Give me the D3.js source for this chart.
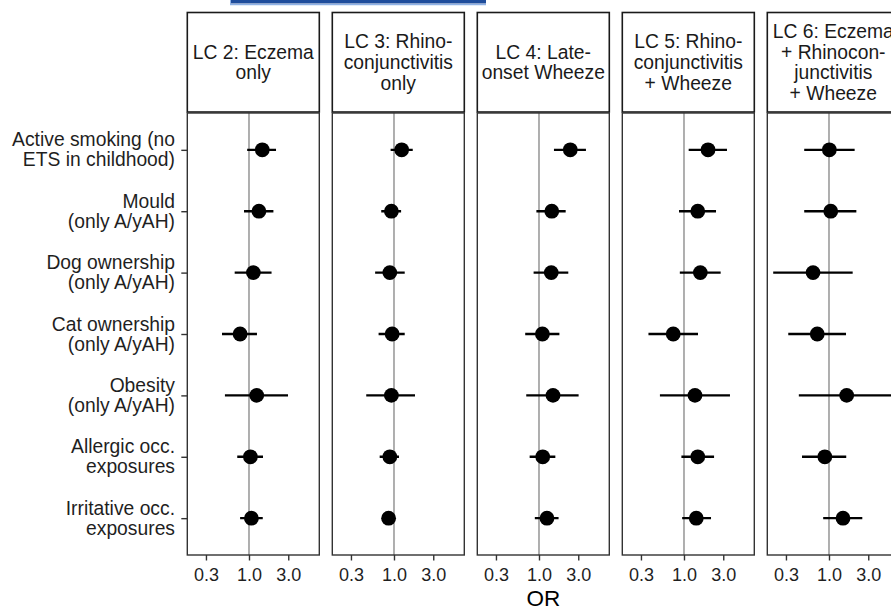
<!DOCTYPE html>
<html>
<head>
    <meta charset="utf-8" />
    <title>Latent classes and exposures - forest plot</title>
    <style>
        body { margin: 0; background: #fff; }
        svg { display: block; font-family: "Liberation Sans", Arial, sans-serif; }
        .ci { stroke: #000; stroke-width: 2.4px; }
        .ref { stroke: #a6a6a6; stroke-width: 1.8px; }
        .panel { fill: none; stroke: #333; stroke-width: 1.4px; }
        .strip { fill: #fff; stroke: #1a1a1a; stroke-width: 1.6px; }
    </style>
    <script src="https://cdn.jsdelivr.net/npm/d3@7"></script>
</head>
<body>
<script>
    // exposures (rows), written as the two lines shown on the axis
    const exposures = [
        ['Active smoking (no', 'ETS in childhood)'],
        ['Mould', '(only A/yAH)'],
        ['Dog ownership', '(only A/yAH)'],
        ['Cat ownership', '(only A/yAH)'],
        ['Obesity', '(only A/yAH)'],
        ['Allergic occ.', 'exposures'],
        ['Irritative occ.', 'exposures']
    ];
    // latent classes (facets)
    const classes = [
        ['LC 2: Eczema', 'only'],
        ['LC 3: Rhino-', 'conjunctivitis', 'only'],
        ['LC 4: Late-', 'onset Wheeze'],
        ['LC 5: Rhino-', 'conjunctivitis', '+ Wheeze'],
        ['LC 6: Eczema', '+ Rhinocon-', 'junctivitis', '+ Wheeze']
    ];
    // odds ratios, one array per class, in exposure order
    const oddsRatios = [
        [1.45, 1.32, 1.13, 0.78, 1.24, 1.04, 1.07],
        [1.24, 0.93, 0.89, 0.95, 0.93, 0.89, 0.86],
        [2.40, 1.43, 1.41, 1.10, 1.48, 1.11, 1.25],
        [1.96, 1.47, 1.58, 0.74, 1.36, 1.47, 1.41],
        [1.01, 1.05, 0.64, 0.72, 1.64, 0.89, 1.48]
    ];
    const ciLower = [
        [0.95, 0.87, 0.67, 0.47, 0.51, 0.72, 0.78],
        [0.91, 0.70, 0.59, 0.65, 0.46, 0.67, 0.72],
        [1.52, 0.93, 0.86, 0.68, 0.70, 0.77, 0.89],
        [1.14, 0.87, 0.89, 0.37, 0.51, 0.93, 0.95],
        [0.50, 0.50, 0.21, 0.32, 0.43, 0.47, 0.85]
    ];
    const ciUpper = [
        [2.13, 1.98, 1.88, 1.25, 2.98, 1.48, 1.47],
        [1.69, 1.22, 1.35, 1.35, 1.80, 1.15, 1.02],
        [3.72, 2.11, 2.27, 1.77, 3.03, 1.58, 1.73],
        [3.33, 2.45, 2.79, 1.48, 3.62, 2.32, 2.13],
        [2.05, 2.15, 1.94, 1.61, 6.50, 1.62, 2.54]
    ];
    const xTicks = [0.3, 1, 3];

    // layout
    const W = 891, H = 610;
    const panelLeft = 187.3, panelW = 132, panelStep = 145;
    const stripTop = 12.5, stripBottom = 112, panelTop = 113, panelBottom = 555;
    const labelSize = 19.3;

    const svg = d3.select('body').append('svg')
        .attr('width', W)
        .attr('height', H);

    // blue bar cut off at the top of the figure
    svg.append('rect')
        .attr('x', 230).attr('y', -2).attr('width', 256).attr('height', 5.5)
        .attr('fill', '#1f4d9c');
    svg.append('line')
        .attr('x1', 230).attr('x2', 486).attr('y1', 4.6).attr('y2', 4.6)
        .attr('stroke', '#8fb2e6').attr('stroke-width', 1.2);
    svg.append('line')
        .attr('x1', 230.5).attr('x2', 230.5).attr('y1', 0).attr('y2', 5)
        .attr('stroke', '#8fb2e6').attr('stroke-width', 1);

    let x = d3.scaleLog().domain([0.178, 7.15]).range([0, panelW]);
    let y = d3.scalePoint()
        .domain(d3.range(exposures.length))
        .range([panelTop, panelBottom])
        .padding(0.6);

    // y axis (ticks + two-line labels)
    const yAxis = svg.append('g')
        .attr('transform', 'translate(' + panelLeft + ',0)')
        .call(d3.axisLeft(y).tickSize(6).tickFormat(''));
    yAxis.select('.domain').remove();
    yAxis.selectAll('.tick line').attr('stroke', '#333').attr('stroke-width', 1.4);

    svg.append('g').selectAll('text')
        .data(exposures)
        .enter().append('text')
            .attr('text-anchor', 'end')
            .attr('font-size', labelSize)
            .attr('fill', '#1f1f1f')
            .each(function(lines, i) {
                const t = d3.select(this);
                lines.forEach((s, j) => {
                    t.append('tspan')
                        .attr('x', 175)
                        .attr('y', y(i) - 3.5 + j * 20)
                        .text(s);
                });
            });

    classes.forEach((cls, k) => {
        const left = panelLeft + k * panelStep;
        const g = svg.append('g').attr('transform', 'translate(' + left + ',0)');

        // strip
        g.append('rect')
            .attr('class', 'strip')
            .attr('x', 0).attr('y', stripTop)
            .attr('width', panelW).attr('height', stripBottom - stripTop);
        const cy = (stripTop + stripBottom) / 2;
        const st = g.append('text')
            .attr('text-anchor', 'middle')
            .attr('font-size', labelSize)
            .attr('fill', '#1a1a1a');
        cls.forEach((s, j) => {
            st.append('tspan')
                .attr('x', panelW / 2)
                .attr('y', cy + (j - (cls.length - 1) / 2) * 20.8 + 6.8)
                .text(s);
        });

        // clip marks to panel
        g.append('clipPath').attr('id', 'clip' + k)
            .append('rect')
                .attr('x', 0).attr('y', panelTop)
                .attr('width', panelW).attr('height', panelBottom - panelTop);

        const plot = g.append('g').attr('clip-path', 'url(#clip' + k + ')');

        // reference line at OR = 1
        plot.append('line')
            .attr('class', 'ref')
            .attr('x1', x(1)).attr('x2', x(1))
            .attr('y1', panelTop).attr('y2', panelBottom);

        const rows = exposures.map((e, i) => ({
            i: i, or: oddsRatios[k][i], lo: ciLower[k][i], hi: ciUpper[k][i]
        }));

        plot.selectAll('.ci')
            .data(rows)
            .enter().append('line')
                .attr('class', 'ci')
                .attr('x1', d => x(d.lo))
                .attr('x2', d => x(d.hi))
                .attr('y1', d => y(d.i))
                .attr('y2', d => y(d.i));

        plot.selectAll('circle')
            .data(rows)
            .enter().append('circle')
                .attr('cx', d => x(d.or))
                .attr('cy', d => y(d.i))
                .attr('r', 7.4)
                .attr('fill', '#000');

        // panel border
        g.append('rect')
            .attr('class', 'panel')
            .attr('x', 0).attr('y', panelTop)
            .attr('width', panelW).attr('height', panelBottom - panelTop);

        // x axis
        const xAxis = g.append('g')
            .attr('transform', 'translate(0,' + panelBottom + ')')
            .call(d3.axisBottom(x)
                .tickValues(xTicks)
                .tickFormat(d3.format('.1f'))
                .tickSize(5.5)
                .tickPadding(7.5));
        xAxis.select('.domain').remove();
        xAxis.selectAll('.tick line').attr('stroke', '#333').attr('stroke-width', 1.4);
        xAxis.selectAll('.tick text')
            .attr('font-size', 18)
            .attr('fill', '#1f1f1f')
            .attr('font-family', '"Liberation Sans", Arial, sans-serif');
    });

    // x axis title
    svg.append('text')
        .attr('x', (panelLeft + panelLeft + 4 * panelStep + panelW) / 2)
        .attr('y', 606)
        .attr('text-anchor', 'middle')
        .attr('font-size', 22.5)
        .attr('fill', '#000')
        .text('OR');
</script>
</body>
</html>
